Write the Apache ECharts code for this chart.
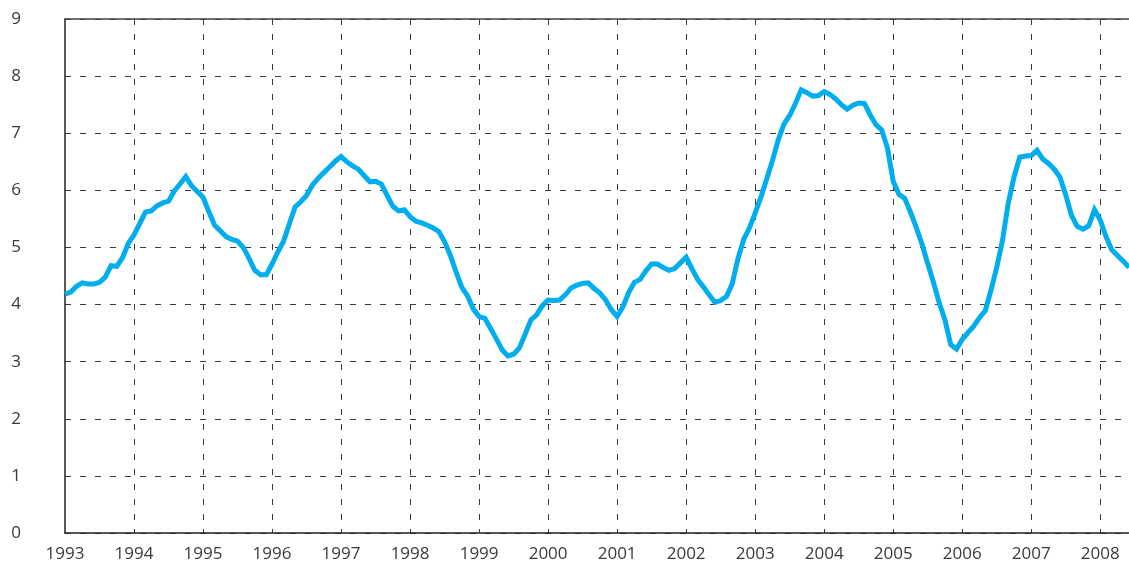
<!DOCTYPE html>
<html>
<head>
<meta charset="utf-8">
<script src="https://cdn.jsdelivr.net/npm/echarts@6/dist/echarts.min.js"></script>
<style>
html,body{margin:0;padding:0;background:#fff;}
#chart{width:1129px;height:566px;}
</style>
</head>
<body>
<div id="chart"></div>
<script>
// Monthly series, Jan 1993 .. Jun 2008
const startYear = 1993;
const values = [
  4.18, 4.22, 4.32, 4.38, 4.36, 4.36, 4.39, 4.48, 4.68, 4.67, 4.82, 5.07, // 1993
  5.22, 5.42, 5.62, 5.64, 5.73, 5.78, 5.81, 5.99, 6.11, 6.24, 6.08, 5.98, // 1994
  5.88, 5.63, 5.39, 5.29, 5.19, 5.14, 5.11, 5.00, 4.81, 4.60, 4.52, 4.52, // 1995
  4.71, 4.92, 5.11, 5.41, 5.71, 5.80, 5.91, 6.09, 6.21, 6.31, 6.41, 6.51, // 1996
  6.59, 6.50, 6.43, 6.37, 6.26, 6.15, 6.16, 6.11, 5.91, 5.72, 5.64, 5.66, // 1997
  5.54, 5.46, 5.43, 5.39, 5.34, 5.28, 5.10, 4.86, 4.57, 4.30, 4.15, 3.92, // 1998
  3.79, 3.76, 3.58, 3.40, 3.21, 3.10, 3.13, 3.24, 3.48, 3.73, 3.82, 3.98, // 1999
  4.08, 4.07, 4.08, 4.17, 4.29, 4.34, 4.37, 4.38, 4.28, 4.20, 4.08, 3.91, // 2000
  3.79, 3.96, 4.21, 4.39, 4.44, 4.59, 4.71, 4.71, 4.65, 4.60, 4.63, 4.73, // 2001
  4.83, 4.63, 4.44, 4.31, 4.17, 4.04, 4.07, 4.14, 4.36, 4.80, 5.14, 5.34, // 2002
  5.60, 5.88, 6.20, 6.52, 6.88, 7.16, 7.31, 7.52, 7.76, 7.71, 7.65, 7.66, // 2003
  7.73, 7.68, 7.60, 7.50, 7.42, 7.49, 7.53, 7.52, 7.32, 7.15, 7.06, 6.74, // 2004
  6.16, 5.93, 5.86, 5.62, 5.35, 5.06, 4.72, 4.39, 4.03, 3.73, 3.30, 3.22, // 2005
  3.39, 3.51, 3.62, 3.77, 3.89, 4.25, 4.65, 5.12, 5.77, 6.23, 6.58, 6.60, // 2006
  6.61, 6.70, 6.55, 6.47, 6.37, 6.23, 5.92, 5.56, 5.37, 5.32, 5.38, 5.66, // 2007
  5.48, 5.19, 4.96, 4.86, 4.76, 4.65                                      // 2008
];
const months = values.map((v, i) => (startYear + Math.floor(i / 12)) + '-' + String(i % 12 + 1).padStart(2, '0'));
const yTicks = [0, 1, 2, 3, 4, 5, 6, 7, 8, 9];

const chart = echarts.init(document.getElementById('chart'), null, {renderer: 'canvas'});
const font = "'Open Sans', 'Liberation Sans', sans-serif";
const gridDash = {color: '#3a3a3a', width: 1, type: [6, 9]};
chart.setOption({
  animation: false,
  backgroundColor: '#fff',
  grid: {left: 65, right: 0, top: 19, bottom: 33, containLabel: false},
  xAxis: [{
    type: 'category',
    data: months,
    boundaryGap: false,
    axisLine: {show: true, lineStyle: {color: '#222', width: 1.5}},
    axisTick: {show: false},
    axisLabel: {
      interval: (i) => i % 12 === 0,
      formatter: (v) => v.slice(0, 4),
      color: '#3a3a3a', fontFamily: font, fontSize: 17, margin: 13
    },
    splitLine: {show: true, interval: (i) => i % 12 === 0 && i > 0, lineStyle: gridDash}
  }, {
    type: 'category',
    data: months,
    boundaryGap: false,
    position: 'top',
    axisLine: {show: true, lineStyle: {color: '#444', width: 1.5}},
    axisTick: {show: false},
    axisLabel: {show: false},
    splitLine: {show: false}
  }],
  yAxis: {
    type: 'value',
    min: yTicks[0], max: yTicks[yTicks.length - 1], interval: 1,
    axisLine: {show: true, lineStyle: {color: '#222', width: 1.5}},
    axisTick: {show: false},
    axisLabel: {color: '#3a3a3a', fontFamily: font, fontSize: 17, margin: 44},
    splitLine: {show: true, lineStyle: gridDash}
  },
  series: [{
    type: 'line',
    data: values,
    xAxisIndex: 0,
    showSymbol: false,
    symbol: 'none',
    lineStyle: {color: '#00AEEF', width: 5, join: 'miter'},
    clip: false
  }]
});
</script>
</body>
</html>
